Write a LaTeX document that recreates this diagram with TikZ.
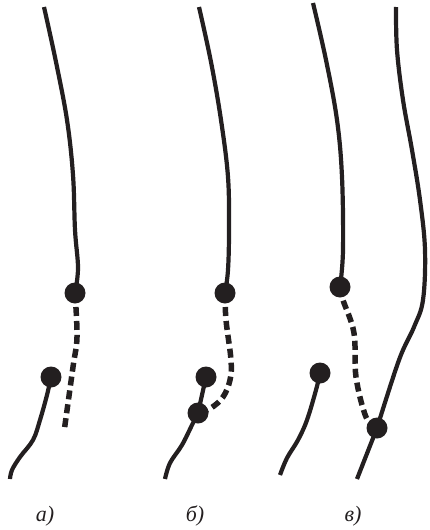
\documentclass[tikz,border=0pt]{standalone}
\usepackage{fontspec}
\setmainfont{Liberation Serif}
\definecolor{ink}{RGB}{35,31,32}
\begin{document}
\begin{tikzpicture}[x=1pt,y=-1pt,
  wire/.style={draw=ink,line width=4.2pt,line cap=butt,line join=round},
  dashwire/.style={draw=ink,line width=5.5pt,dash pattern=on 9pt off 5pt},
  dot/.style={circle,inner sep=0pt,minimum size=21pt},
  lbl/.style={font=\fontsize{22}{26}\selectfont\itshape,text=ink}]
\useasboundingbox (0,0) rectangle (429,530);
% panel a
\coordinate (at) at (44,7);
\coordinate (ab) at (10,479);
\coordinate (ad) at (64,432);
\node[dot] (a1) at (75,293) {};
\node[dot] (a2) at (51,377) {};
% panel b
\coordinate (bt) at (199,7);
\coordinate (bb) at (165,479);
\node[dot] (b1) at (225,293) {};
\node[dot] (b2) at (206,377) {};
\node[dot] (b3) at (198,413) {};
% panel c
\coordinate (ct) at (313,3);
\coordinate (crt) at (396,7);
\coordinate (cb) at (280,475);
\coordinate (crb) at (357,479);
\node[dot] (c1) at (340,287) {};
\node[dot] (c2) at (320,373) {};
\node[dot] (c3) at (377,428) {};
% a lines
\draw[wire] plot[smooth,tension=0.6] coordinates {(at) (56,62) (67,120) (73,175) (75,230) (78,268) (a1.center)};
\draw[dashwire] plot[smooth,tension=0.6] coordinates {(a1.center) (77,337) (73,367) (ad)};
\draw[wire] plot[smooth,tension=0.6] coordinates {(a2.center) (47,395) (40,420) (33,440) (20,457) (12,470) (ab)};
% b lines
\draw[wire] plot[smooth,tension=0.6] coordinates {(bt) (211,62) (221,120) (228,177) (229,230) (228,270) (b1.center)};
\draw[dashwire] plot[smooth,tension=0.6] coordinates {(b1.center) (226,320) (231,360) (230,380) (223,397) (211,408) (b3.center)};
\draw[wire] (b2.center) -- (b3.center);
\draw[wire] plot[smooth,tension=0.6] coordinates {(b3.center) (192,425) (182,445) (170,463) (bb)};
% c lines
\draw[wire] plot[smooth,tension=0.6] coordinates {(ct) (326,60) (337,120) (342,177) (343,250) (c1.center)};
\draw[dashwire] plot[smooth,tension=0.6] coordinates {(c1.center) (343,300) (354,333) (356,377) (366,417) (c3.center)};
\draw[wire] plot[smooth,tension=0.6] coordinates {(crt) (397,50) (403,100) (412,150) (420,200) (425,250) (423,300) (414,327) (399,360) (c3.center)};
\draw[wire] (c3.center) -- (crb);
\draw[wire] plot[smooth,tension=0.6] coordinates {(c2.center) (316,390) (307,420) (298,440) (287,458) (cb)};
% dots on top
\foreach \n in {a1,a2,b1,b2,b3,c1,c2,c3} \fill[ink] (\n) circle (10.5pt);
\node[lbl] (la) at (45,516) {а)};
\node[lbl] (lb) at (195,516) {б)};
\node[lbl] (lc) at (353,516) {в)};
\end{tikzpicture}
\end{document}
